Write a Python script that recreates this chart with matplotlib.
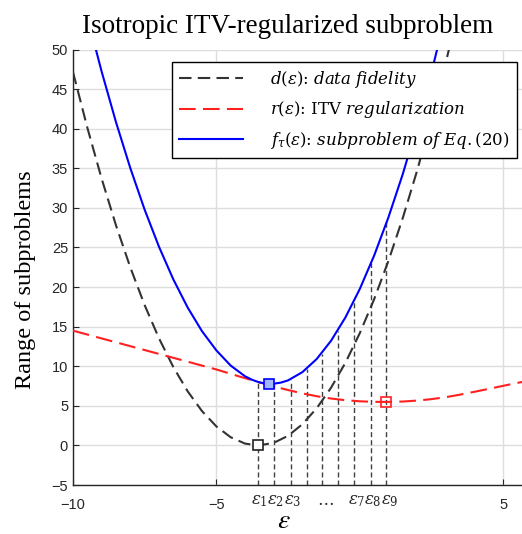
import numpy as np
import matplotlib
matplotlib.use("Agg")
import matplotlib.pyplot as plt

plt.rcParams["mathtext.fontset"] = "stix"

# ---- data ----
x_d = [-10, -9.5, -9, -8.5, -8, -7.5, -7, -6.5, -6, -5.5, -5, -4.5, -4, -3.54,
       -3, -2.5, -2, -1.5, -1, -0.5, 0, 0.5, 1, 1.5, 2, 2.5, 3, 3.2]
d_vals = [47.16, 40.14, 33.69, 27.80, 22.48, 17.72, 13.53, 9.90, 6.84, 4.34, 2.41,
          1.04, 0.24, 0.0, 0.33, 1.22, 2.68, 4.70, 7.29, 10.44, 14.16, 18.44,
          23.29, 28.70, 34.68, 41.22, 48.33, 51.33]

x_r = [-10, -9.5, -9, -8.5, -8, -7.5, -7, -6.5, -6, -5.5, -5, -4.5, -4, -3.5,
       -3, -2.5, -2, -1.5, -1, -0.5, 0, 0.5, 1, 1.5, 2, 2.5, 3, 3.5, 4, 4.5,
       5, 5.5, 5.7]
r_vals = [14.5, 14.01, 13.52, 13.03, 12.54, 12.05, 11.56, 11.07, 10.58, 10.09,
          9.6, 9.05, 8.5, 7.97, 7.47, 7.0, 6.58, 6.22, 5.93, 5.72, 5.58, 5.51,
          5.5, 5.55, 5.67, 5.85, 6.1, 6.42, 6.78, 7.15, 7.53, 7.9, 8.05]

x_f = [-9.5, -9, -8.5, -8, -7.5, -7, -6.5, -6, -5.5, -5, -4.5, -4, -3.75, -3.5,
       -3.25, -3, -2.75, -2.5, -2, -1.5, -1, -0.5, 0, 0.5, 1, 1.5, 2, 2.5, 3]
f_vals = [54.15, 47.21, 40.83, 35.02, 29.77, 25.09, 20.97, 17.42, 14.43, 12.01,
          10.09, 8.74, 8.29, 7.97, 7.80, 7.80, 7.94, 8.22, 9.26, 10.92, 13.22,
          16.16, 19.74, 23.95, 28.79, 34.25, 40.35, 47.07, 54.43]

eps_x = [-3.54, -3.0, -2.41, -1.85, -1.31, -0.75, -0.21, 0.39, 0.92]
eps_top = [7.9, 7.8, 8.3, 9.6, 11.6, 14.5, 18.3, 23.1, 28.3]
eps_labels = [r"$\epsilon_1$", r"$\epsilon_2$", r"$\epsilon_3$", r"$\ldots$",
              r"$\epsilon_7$", r"$\epsilon_8$", r"$\epsilon_9$"]
eps_label_x = [-3.5, -2.92, -2.33, -1.2, -0.12, 0.46, 1.04]

min_d = (-3.54, 0.0)
min_f = (-3.15, 7.75)
min_r = (0.92, 5.5)

# ---- figure ----
fig = plt.figure(figsize=(5.22, 5.34), dpi=100)
ax = fig.add_axes([0.1398, 0.0916, 0.8602, 0.8157])

for xe, top in zip(eps_x, eps_top):
    ax.plot([xe, xe], [-5, top], color="#404040", lw=1.0,
            linestyle=(0, (3.6, 2.2)), zorder=2)

ax.plot(x_d, d_vals, color="#333333", lw=1.5, linestyle=(0, (6, 3)),
        label=r"$d(\varepsilon)$: $data\ fidelity$", zorder=3)
ax.plot(x_r, r_vals, color="#ff2020", lw=1.5, linestyle=(0, (8, 3.5)),
        label=r"$r(\varepsilon)$: ITV $regularization$", zorder=3)
ax.plot(x_f, f_vals, color="#0000ff", lw=1.5,
        label=r"$f_{\tau}(\varepsilon)$: $subproblem\ of\ Eq.$(20)", zorder=4)

ax.plot(*min_d, marker="s", ms=7, mfc="white", mec="#222222", mew=1.2, zorder=5)
ax.plot(*min_f, marker="s", ms=7, mfc="#9fb8ff", mec="#0000ff", mew=1.2, zorder=5)
ax.plot(*min_r, marker="s", ms=7, mfc="none", mec="#ff2020", mew=1.2, zorder=5)

ax.set_xlim(-10, 5.66)
ax.set_ylim(-5, 50)
ax.set_xticks([-10, -5, 5])
ax.set_yticks(np.arange(-5, 51, 5))
ax.tick_params(direction="in", length=4, colors="#262626", labelsize=10.5)
ax.tick_params(axis="x", pad=9)
for lab in ax.get_xticklabels() + ax.get_yticklabels():
    lab.set_family("Liberation Sans")
ax.grid(True, color="#dddddd", lw=1.0)
ax.set_axisbelow(True)
for s in ["top", "right"]:
    ax.spines[s].set_visible(False)
for s in ["left", "bottom"]:
    ax.spines[s].set_color("#262626")
    ax.spines[s].set_linewidth(1.0)

for lx, lt in zip(eps_label_x, eps_labels):
    t = ax.text(lx, -5.7, lt, ha="center", va="top", fontsize=12,
                color="#262626")
    t.set_math_fontfamily("dejavuserif")

leg = ax.legend(loc="upper right", bbox_to_anchor=(0.989, 0.972),
                prop={"family": "DejaVu Serif", "size": 12},
                handlelength=3.85, handletextpad=1.6, labelspacing=0.55,
                borderpad=0.45, fancybox=False, framealpha=1,
                edgecolor="black", borderaxespad=0)
leg.get_frame().set_linewidth(1.0)
for t in leg.get_texts():
    t.set_math_fontfamily("dejavuserif")

fig.text(0.551, 0.938, "Isotropic ITV-regularized subproblem", ha="center",
         va="baseline", fontsize=19.5, family="Liberation Serif")
fig.text(0.048, 0.476, "Range of subproblems", rotation=90, ha="center",
         va="center", fontsize=17.5, family="Liberation Serif")
fig.text(0.544, 0.026, r"$\varepsilon$", ha="center", va="center", fontsize=20)

plt.savefig("out.png", dpi=100)
